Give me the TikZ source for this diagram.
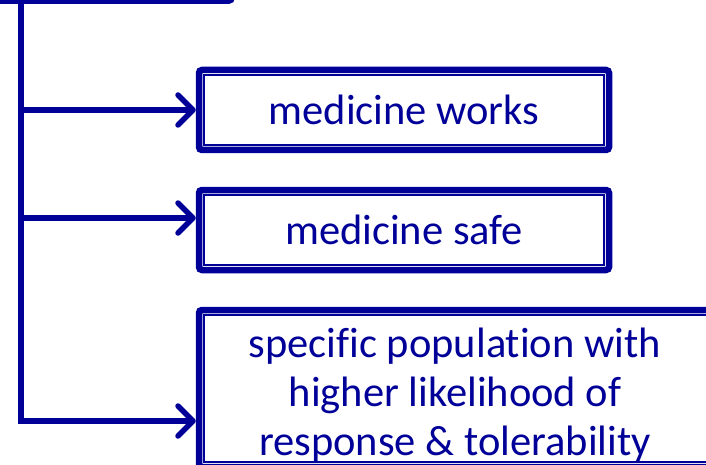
\documentclass[tikz,border=0pt]{standalone}
\usepackage{fontspec}
\setmainfont{Carlito}[Ligatures={NoCommon}]
\usetikzlibrary{arrows.meta}
\definecolor{navy}{RGB}{0,0,153}
\tikzset{
  outerbox/.style={draw=navy, line width=6.5pt, outer sep=3.25pt, inner sep=0pt,
    rounded corners=3pt, text=navy, font=\fontsize{42.5}{49}\selectfont, align=center},
  innerline/.style={draw=navy, line width=1.7pt},
  link/.style={draw=navy, line width=5.5pt},
  linkarrow/.style={link, -{Straight Barb[length=15pt, width=30pt, round]}}
}
\begin{document}
\begin{tikzpicture}[x=1pt, y=-1pt]
  \useasboundingbox (0,0) rectangle (706,465);

  % parent box, mostly above the frame
  \node[draw=navy, line width=5pt, outer sep=2.5pt, inner sep=0pt, rounded corners=4pt,
        minimum width=262.5pt, minimum height=81.5pt] (top) at (101.25,-39.25) {};

  % outcome boxes
  \node[outerbox, minimum width=410pt, minimum height=80pt] (b1) at (404,110) {\raisebox{-2pt}{medicine works}};
  \node[outerbox, minimum width=410pt, minimum height=80pt] (b2) at (404,230) {\raisebox{-2pt}{medicine safe}};
  \node[outerbox, minimum width=514pt, minimum height=157pt] (b3) at (456,388.5) {};
  \node[text=navy, font=\fontsize{42.5}{49}\selectfont, align=center, inner sep=0pt]
    (t3) at (455,395.5) {specific population with\\higher likelihood of\\response \& tolerability};

  % inner rule of each double frame
  \foreach \b in {b1,b2,b3}
    \draw[innerline] ([shift={(8.5,-8.5)}]\b.south west) rectangle ([shift={(-8.5,8.5)}]\b.north east);

  % junctions on the trunk line
  \coordinate (j1) at (21,110);
  \coordinate (j2) at (21,218);
  \coordinate (j3) at (21,421);

  % trunk and branches
  \draw[linkarrow] (top.south -| j1) -- (j3) -- (j3 -| b3.west);
  \draw[linkarrow] (j1) -- (j1 -| b1.west);
  \draw[linkarrow] (j2) -- (j2 -| b2.west);
\end{tikzpicture}
\end{document}
